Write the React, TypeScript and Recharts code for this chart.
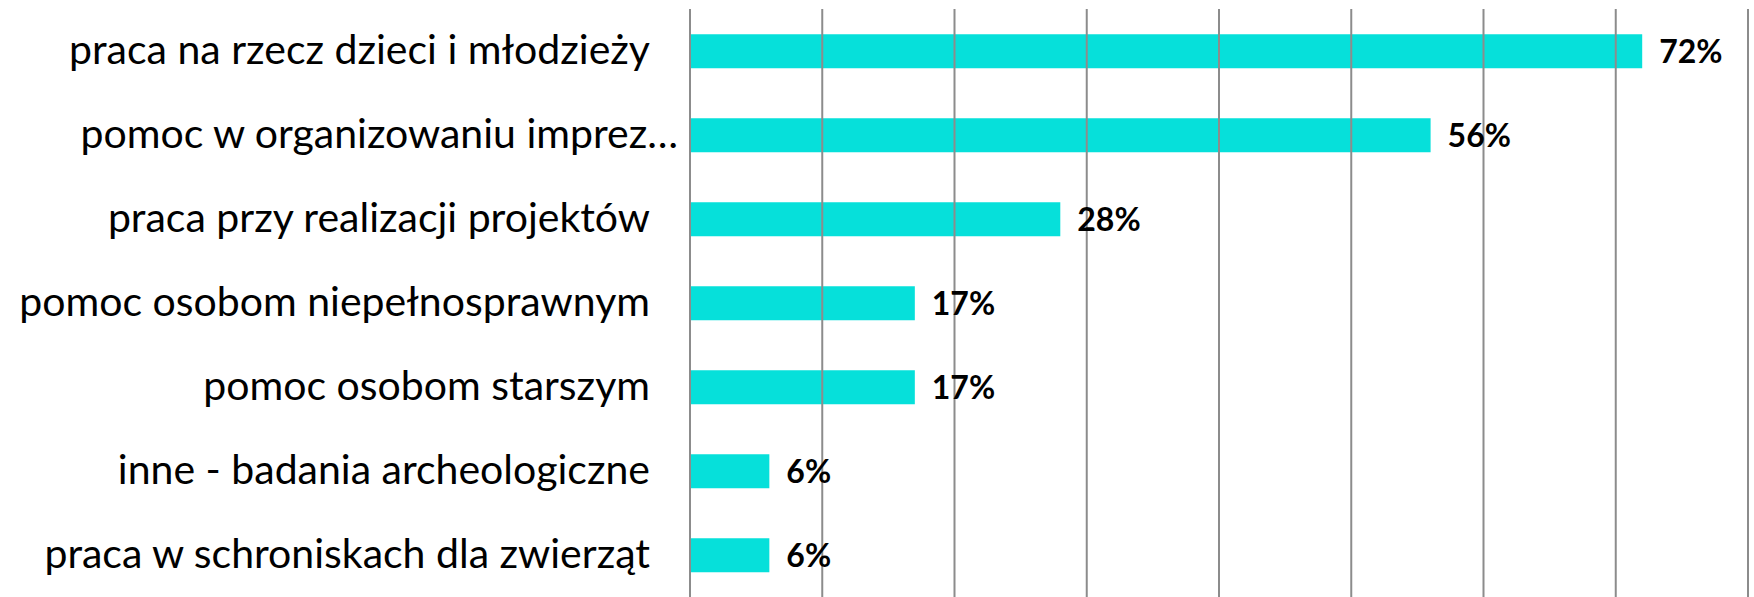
import React from 'react';
import { BarChart, Bar, XAxis, YAxis, ReferenceLine, LabelList } from 'recharts';

const categories = [
  'praca na rzecz dzieci i młodzieży',
  'pomoc w organizowaniu imprez…',
  'praca przy realizacji projektów',
  'pomoc osobom niepełnosprawnym',
  'pomoc osobom starszym',
  'inne - badania archeologiczne',
  'praca w schroniskach dla zwierząt',
];
const values = [72, 56, 28, 17, 17, 6, 6];
const xTicks = [0, 10, 20, 30, 40, 50, 60, 70, 80];

const data = categories.map((name, i) => ({ name, value: values[i] }));

const FONT = 'Lato, "Open Sans", sans-serif';

const Tick = (props: any) => {
  const { x, y, payload } = props;
  const s = String(payload.value);
  const extra = s.endsWith('…') ? 28 : 0;
  return (
    <text x={x - 32 + extra} y={y} dy={13} textAnchor="end" fontFamily={FONT} fontSize={41} fill="#000">
      {s}
    </text>
  );
};

export default function App() {
  return (
    <div style={{ position: 'absolute', left: 0, top: 0, background: '#fff' }}>
      <BarChart
        width={1754}
        height={597}
        data={data}
        layout="vertical"
        margin={{ top: 9, right: 6, bottom: 0, left: 0 }}
        barCategoryGap="30%"
      >
        <XAxis type="number" domain={[0, 80]} ticks={xTicks} height={0} tick={false} axisLine={false} tickLine={false} />
        <YAxis type="category" dataKey="name" width={690} axisLine={false} tickLine={false} tick={<Tick />} interval={0} />
        {xTicks.map((t) => (
          <ReferenceLine key={t} x={t} stroke="#8c8c8c" strokeWidth={2} />
        ))}
        <Bar dataKey="value" fill="#06E0DA" isAnimationActive={false}>
          <LabelList
            dataKey="value"
            position="right"
            offset={17}
            formatter={(v: any) => `${v}%`}
            style={{ fontFamily: FONT, fontSize: 32, fontWeight: 700, fill: '#000' }}
          />
        </Bar>
      </BarChart>
    </div>
  );
}
